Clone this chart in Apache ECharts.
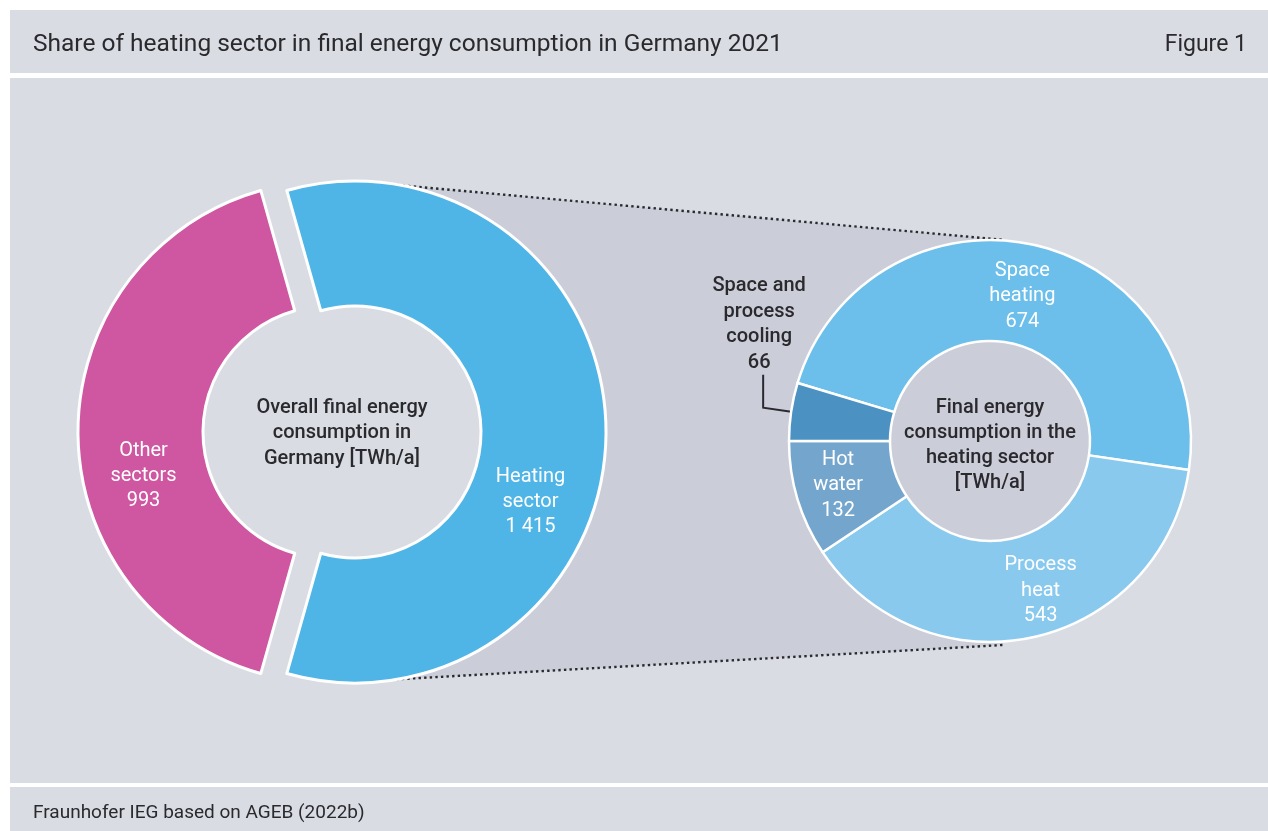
<!DOCTYPE html>
<html>
<head>
<meta charset="utf-8">
<script src="https://cdn.jsdelivr.net/npm/echarts@6/dist/echarts.min.js"></script>
<style>
  html, body { margin: 0; padding: 0; background: #ffffff; }
  #chart { width: 1268px; height: 831px; }
</style>
</head>
<body>
<div id="chart"></div>
<script>
// Final energy consumption in Germany 2021, TWh/a
const sectorNames  = ['Heating sector', 'Other sectors'];
const sectorLabels = ['Heating\nsector', 'Other\nsectors'];
const sectorValues = [1415, 993];

// Breakdown of the heating sector, TWh/a
const heatNames  = ['Space heating', 'Process heat', 'Hot water', 'Space and process cooling'];
const heatLabels = ['Space\nheating', 'Process\nheat', 'Hot\nwater', 'Space and\nprocess\ncooling'];
const heatValues = [674, 543, 132, 66];

const titleText  = 'Share of heating sector in final energy consumption in Germany 2021';
const figureText = 'Figure 1';
const sourceText = 'Fraunhofer IEG based on AGEB (2022b)';
const leftCenterText  = 'Overall final energy\nconsumption in\nGermany [TWh/a]';
const rightCenterText = 'Final energy\nconsumption in the\nheating sector\n[TWh/a]';

const FONT = 'Roboto, "Noto Sans", sans-serif';
const DARK = '#2a2a2e';
const BG = '#d9dce3';
const SHADE = '#cbcdd8';

const sum = a => a.reduce((s, v) => s + v, 0);
const fmt = v => String(v).replace(/\B(?=(\d{3})+(?!\d))/g, ' ');

const sectorTotal = sum(sectorValues);
const heatTotal = sum(heatValues);

// heating slice centred on the right-hand side
const leftStart = 180 * sectorValues[0] / sectorTotal;
// cooling slice ends just above the left horizontal
const rightStart = 180 - 360 * heatValues[heatValues.length - 1] / heatTotal;

const L = { cx: 342, cy: 432, r0: 126, r1: 251 };
const R = { cx: 990, cy: 441, r0: 100, r1: 201 };

const chart = echarts.init(document.getElementById('chart'), null, { renderer: 'canvas' });

const option = {
  animation: false,
  backgroundColor: '#ffffff',
  graphic: [
    // panel bands
    { type: 'rect', shape: { x: 10, y: 10, width: 1258, height: 63 }, style: { fill: BG }, z: -10 },
    { type: 'rect', shape: { x: 10, y: 78, width: 1258, height: 705 }, style: { fill: BG }, z: -10 },
    { type: 'rect', shape: { x: 10, y: 787, width: 1258, height: 44 }, style: { fill: BG }, z: -10 },
    // zoom funnel linking the heating slice with its breakdown (left end tucked under the ring)
    { type: 'polygon', shape: { points: [[397, 185], [1005, 240], [1003, 645], [385, 680], [545, 432]] },
      style: { fill: SHADE }, z: -5 },
    { type: 'circle', shape: { cx: R.cx, cy: R.cy, r: R.r1 - 2 }, style: { fill: SHADE }, z: -5 },
    { type: 'line', shape: { x1: 397, y1: 185, x2: 1005, y2: 240 },
      style: { stroke: DARK, lineWidth: 2.4, lineDash: [2.4, 3.2] }, z: -4 },
    { type: 'line', shape: { x1: 385, y1: 680, x2: 1003, y2: 645 },
      style: { stroke: DARK, lineWidth: 2.4, lineDash: [2.4, 3.2] }, z: -4 },
    // texts
    { type: 'text', x: 33, y: 45, style: { text: titleText, fill: DARK, font: '24.5px ' + FONT, textVerticalAlign: 'middle' } },
    { type: 'text', x: 1247, y: 45, style: { text: figureText, fill: DARK, font: '23px ' + FONT, textAlign: 'right', textVerticalAlign: 'middle' } },
    { type: 'text', x: 33, y: 813, style: { text: sourceText, fill: DARK, font: '19px ' + FONT, textVerticalAlign: 'middle' } },
    { type: 'text', x: L.cx, y: L.cy + 1, z: 10,
      style: { text: leftCenterText, fill: DARK, font: '500 20px ' + FONT, lineHeight: 25.5, textAlign: 'center', textVerticalAlign: 'middle' } },
    { type: 'text', x: R.cx, y: R.cy + 4, z: 10,
      style: { text: rightCenterText, fill: DARK, font: '500 20px ' + FONT, lineHeight: 25, textAlign: 'center', textVerticalAlign: 'middle' } }
  ],
  series: [
    {
      type: 'pie',
      center: [L.cx, L.cy],
      radius: [L.r0, L.r1],
      startAngle: leftStart,
      clockwise: true,
      avoidLabelOverlap: false,
      selectedMode: 'multiple',
      selectedOffset: 13,
      emphasis: { disabled: true },
      itemStyle: { borderColor: '#ffffff', borderWidth: 3 },
      label: {
        show: true, position: 'inside', color: '#ffffff',
        fontFamily: FONT, fontSize: 20, lineHeight: 25,
        formatter: p => sectorLabels[p.dataIndex] + '\n' + fmt(p.value)
      },
      labelLine: { show: false },
      labelLayout: p => {
        const shift = [[-16, 70], [6, 44]][p.dataIndex];
        return { dx: shift[0], dy: shift[1] };
      },
      data: sectorValues.map((v, i) => ({
        name: sectorNames[i], value: v, selected: true,
        itemStyle: { color: ['#4fb5e6', '#cf56a0'][i] }
      }))
    },
    {
      type: 'pie',
      center: [R.cx, R.cy],
      radius: [R.r0, R.r1],
      startAngle: rightStart,
      clockwise: true,
      avoidLabelOverlap: false,
      emphasis: { disabled: true },
      itemStyle: { borderColor: '#ffffff', borderWidth: 2.5 },
      label: {
        show: true, position: 'inside', color: '#ffffff',
        fontFamily: FONT, fontSize: 20, lineHeight: 25.5,
        formatter: p => heatLabels[p.dataIndex] + '\n' + fmt(p.value)
      },
      labelLine: { show: false },
      labelLayout: p => {
        if (p.dataIndex === 3) {
          // leader line from the outer rim of the cooling slice
          const before = sum(heatValues.slice(0, 3)) + heatValues[3] / 2;
          const a = (rightStart - 360 * before / heatTotal) * Math.PI / 180;
          const x0 = R.cx + R.r1 * Math.cos(a);
          const y0 = R.cy - R.r1 * Math.sin(a);
          return {
            x: x0 - 32, y: y0 - 87, align: 'center', verticalAlign: 'middle',
            labelLinePoints: [[x0, y0], [x0 - 28, y0 - 4], [x0 - 28, y0 - 37]]
          };
        }
        const shift = [[-1, 5], [17, 0], [-5, 0]][p.dataIndex];
        return { dx: shift[0], dy: shift[1] };
      },
      data: heatValues.map((v, i) => {
        const item = {
          name: heatNames[i], value: v,
          itemStyle: { color: ['#6cbfea', '#89c9ee', '#74a6cd', '#4b92c2'][i] }
        };
        if (i === 3) {
          item.label = { position: 'outside', color: DARK, fontWeight: 500 };
          item.labelLine = { show: true, length: 10, length2: 10, lineStyle: { color: DARK, width: 2 } };
        }
        return item;
      })
    }
  ]
};

chart.setOption(option);
</script>
</body>
</html>
